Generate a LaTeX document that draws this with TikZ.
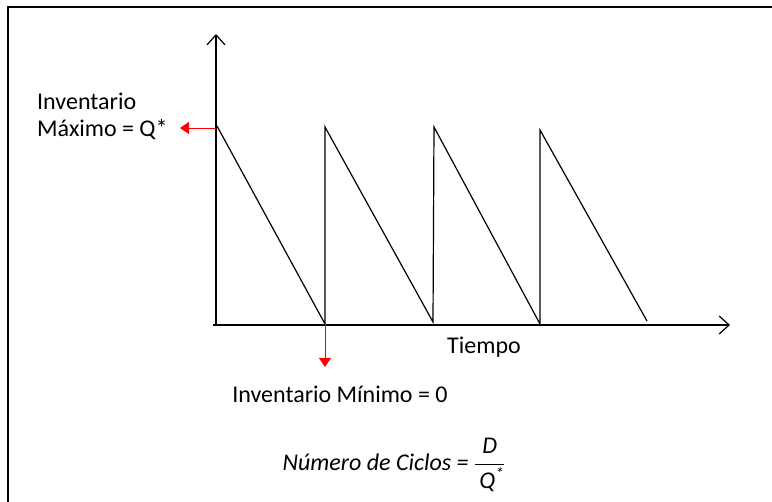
\RequirePackage{fix-cm}
\documentclass[tikz,border=0pt]{standalone}
\usepackage{amsmath}
\usepackage{fontspec}
\setmainfont{Carlito}
\usepackage{tikz}
\usetikzlibrary{arrows.meta,positioning}

\begin{document}
\begin{tikzpicture}[x=1pt, y=-1pt,
	eje/.style={line width=1.2pt, -{Straight Barb[length=10pt,width=18pt,line width=1.2pt]}},
	diente/.style={line width=1.2pt, line join=miter},
	flecha/.style={red, line width=0.9pt, -{Triangle[length=9pt,width=12pt]}},
	etiq/.style={inner sep=0pt, font=\fontsize{24}{27}\selectfont}]
	\useasboundingbox (0,0) rectangle (772,502);
	\draw [line width=2pt] (8,502) -- (8,7) -- (772,7);

	\coordinate (o) at (216,325);
	\coordinate (ytop) at (216,34);
	\coordinate (xend) at (730,325);
	\draw [eje] (o) -- (ytop);
	\draw [eje] (213,325) -- (xend);

	\coordinate (p1) at (217,126);
	\coordinate (b1) at (325,324);
	\coordinate (p2) at (325,127);
	\coordinate (b2) at (433,322);
	\coordinate (p3) at (434,127);
	\coordinate (b3) at (540,324);
	\coordinate (p4) at (540,130);
	\coordinate (b4) at (647,321);
	\draw [diente] (p1) -- (b1) -- (p2) -- (b2) -- (p3) -- (b3) -- (p4) -- (b4);

	\node (qmax) [etiq, anchor=west, align=left] at (37,116) {Inventario\\Máximo = Q*};
	\coordinate (ymax) at (216,128);
	\coordinate (qtip) at (180,128);
	\draw [flecha] (ymax) -- (qtip);

	\coordinate (mintip) at (325,367);
	\draw [flecha] (b1) -- (mintip);
	\node (imin) [etiq] at (340,394) {Inventario Mínimo = 0};

	\node (tiempo) [etiq] at (484,347) {Tiempo};

	\node (ciclos) [etiq] at (394,465) {\itshape Número de Ciclos = $\dfrac{\mbox{\itshape\,D\,}}{\mbox{\itshape\,Q\textsuperscript{*}}}$};
\end{tikzpicture}
\end{document}
